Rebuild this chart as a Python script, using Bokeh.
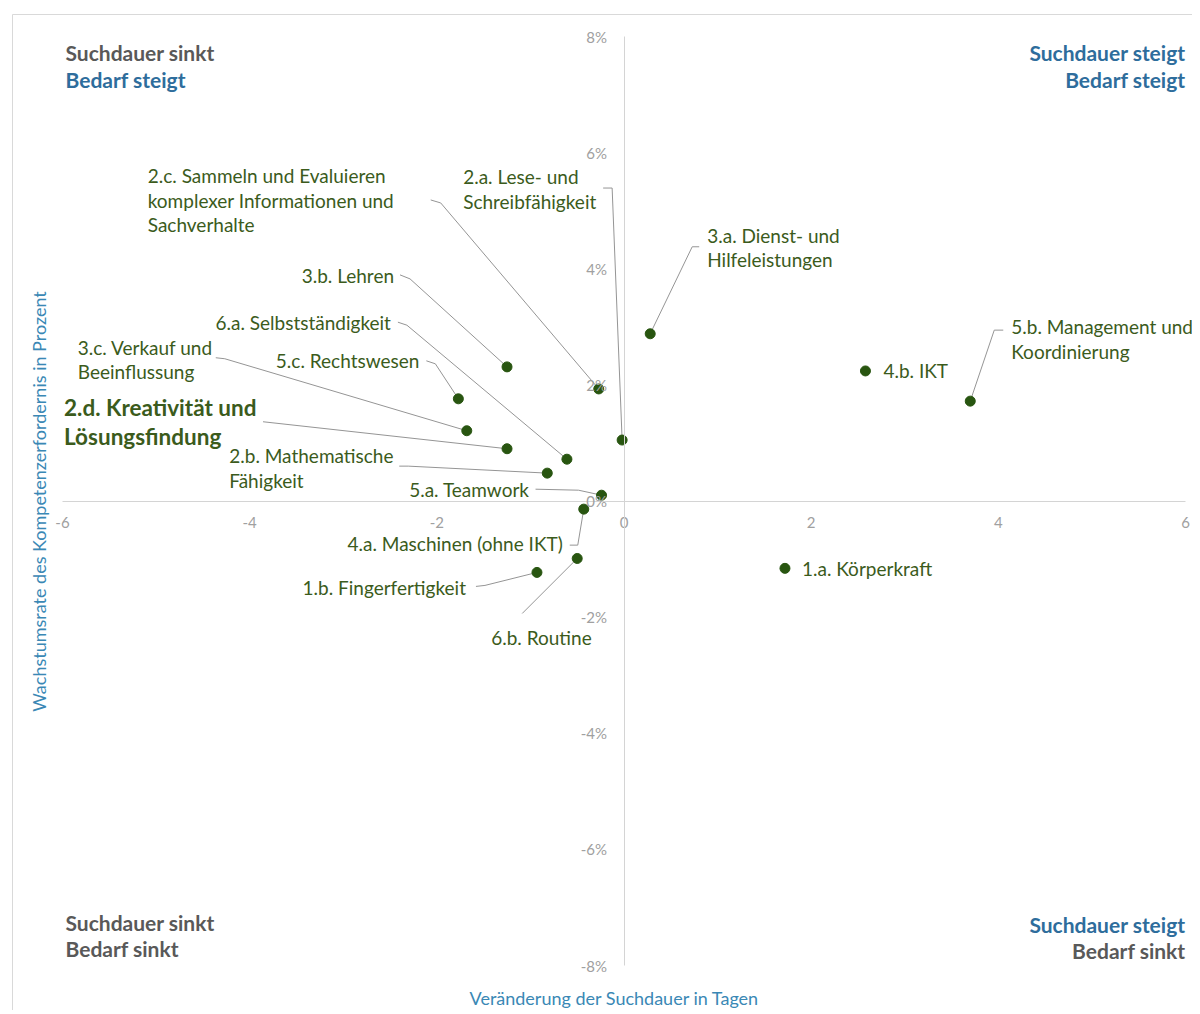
import math
from bokeh.plotting import figure
from bokeh.models import PrintfTickFormatter, FixedTicker, Range1d
from bokeh.core.properties import value
from bokeh.embed import file_html
from bokeh.resources import INLINE

# ---------------- data ----------------
codes = ["1.a", "1.b", "2.a", "2.b", "2.c", "2.d", "3.a", "3.b",
         "3.c", "4.a", "4.b", "5.a", "5.b", "5.c", "6.a", "6.b"]
label_texts = [
    "1.a. Körperkraft",
    "1.b. Fingerfertigkeit",
    "2.a. Lese- und\nSchreibfähigkeit",
    "2.b. Mathematische\nFähigkeit",
    "2.c. Sammeln und Evaluieren\nkomplexer Informationen und\nSachverhalte",
    "2.d. Kreativität und\nLösungsfindung",
    "3.a. Dienst- und\nHilfeleistungen",
    "3.b. Lehren",
    "3.c. Verkauf und\nBeeinflussung",
    "4.a. Maschinen (ohne IKT)",
    "4.b. IKT",
    "5.a. Teamwork",
    "5.b. Management und\nKoordinierung",
    "5.c. Rechtswesen",
    "6.a. Selbstständigkeit",
    "6.b. Routine",
]
# change of search duration in days
x_days = [1.72, -0.93, -0.02, -0.82, -0.27, -1.25, 0.28, -1.25,
          -1.68, -0.43, 2.58, -0.24, 3.70, -1.77, -0.61, -0.50]
# growth rate of skill requirement in percent
y_pct = [-1.16, -1.23, 1.05, 0.48, 1.93, 0.90, 2.88, 2.31,
         1.21, -0.14, 2.24, 0.10, 1.72, 1.76, 0.72, -0.99]

x_ticks = [-6, -4, -2, 0, 2, 4, 6]
y_ticks = [-8, -6, -4, -2, 0, 2, 4, 6, 8]

x_title = "Veränderung der Suchdauer in Tagen"
y_title = "Wachstumsrate des Kompetenzerfordernis in Prozent"

# ---------------- layout (screen pixels) ----------------
W, H = 1192, 1010
FL, FR, FT, FB = 62, 1185, 36, 965       # axis extents in canvas pixels
PPX = (FR - FL) / (x_ticks[-1] - x_ticks[0])
PPY = (FB - FT) / (y_ticks[-1] - y_ticks[0])

def px2x(px):
    return x_ticks[0] + (px - FL) / PPX

def py2y(py):
    return y_ticks[-1] - (py - FT) / PPY

# label offsets relative to point (px, screen: +down): dx, dy, align, baseline, leader pts
label_layout = {
    "1.a": (17, 0, "left", "middle", []),
    "1.b": (-71, 15, "right", "middle", [(-61, 14), (-52, 13)]),
    "2.a": (-159, -275, "left", "top", [(-19, -252), (-10, -252)]),
    "2.b": (-318, -29, "left", "top", [(-148, -7), (-139, -7)]),
    "2.c": (-451, -225, "left", "top", [(-168, -189), (-158, -186)]),
    "2.d": (-443, -55, "left", "top", [(-244, -27), (-235, -26)]),
    "3.a": (57, -110, "left", "top", [(49, -87), (42, -87)]),
    "3.b": (-113, -91, "right", "middle", [(-107, -92), (-97, -88)]),
    "3.c": (-389, -95, "left", "top", [(-251, -73), (-242, -72)]),
    "4.a": (-21, 34, "right", "middle", [(-14, 36), (-6, 36)]),
    "4.b": (18, 0, "left", "middle", []),
    "5.a": (-72, -6, "right", "middle", [(-66, -6), (-23, -5)]),
    "5.b": (41, -86, "left", "top", [(33, -71), (24, -71)]),
    "5.c": (-39, -38, "right", "middle", [(-32, -38), (-23, -35)]),
    "6.a": (-176, -137, "right", "middle", [(-169, -137), (-160, -134)]),
    "6.b": (-86, 79, "left", "middle", [(-55, 55)]),
}

FONT = "Lato"
GREEN_TXT = "#3b5b1c"
GREEN_PT = "#285510"
GRAY_Q = "#595959"
BLUE_Q = "#2e6d9c"
BLUE_T = "#3a88b5"
TICK_C = "#a0a0a0"
AXIS_C = "#d4d4d4"
LEADER_C = "#959595"
BORDER_C = "#d9d9d9"

p = figure(width=W, height=H, x_range=Range1d(px2x(0), px2x(W)),
           y_range=Range1d(py2y(H), py2y(0)),
           output_backend="svg", toolbar_location=None,
           min_border_left=0, min_border_right=0,
           min_border_top=0, min_border_bottom=0)
p.outline_line_color = None
p.xgrid.visible = False
p.ygrid.visible = False

for ax in (p.xaxis[0], p.yaxis[0]):
    ax.fixed_location = 0
    ax.axis_line_color = AXIS_C
    ax.axis_line_width = 1
    ax.major_tick_line_color = None
    ax.minor_tick_line_color = None
    ax.major_tick_out = 0
    ax.major_tick_in = 0
    ax.major_label_text_color = TICK_C
    ax.major_label_text_font = FONT
    ax.major_label_text_font_size = "15px"
p.xaxis.bounds = (x_ticks[0], x_ticks[-1])
p.yaxis.bounds = (y_ticks[0], y_ticks[-1])
p.xaxis.ticker = FixedTicker(ticks=x_ticks)
p.yaxis.ticker = FixedTicker(ticks=y_ticks)
p.xaxis.formatter = PrintfTickFormatter(format="%d")
p.yaxis.formatter = PrintfTickFormatter(format="%d%%")
p.xaxis.major_label_standoff = 16
p.yaxis.major_label_standoff = 17

# chart-area border (left and top edges)
p.line([px2x(12), px2x(12), px2x(W)], [py2y(H), py2y(14), py2y(14)],
       line_color=BORDER_C, line_width=1)

# leader lines
xs, ys = [], []
for c, xv, yv in zip(codes, x_days, y_pct):
    lead = label_layout[c][4]
    if not lead:
        continue
    lx = [xv + ox / PPX for ox, oy in lead] + [xv]
    ly = [yv - oy / PPY for ox, oy in lead] + [yv]
    xs.append(lx)
    ys.append(ly)
p.multi_line(xs, ys, line_color=LEADER_C, line_width=1)

# points
p.scatter(x_days, y_pct, size=10, color=GREEN_PT)

# labels
for c, t, xv, yv in zip(codes, label_texts, x_days, y_pct):
    dx, dy, al, bl, _ = label_layout[c]
    bold = c == "2.d"
    p.text(x=[xv + dx / PPX], y=[yv - dy / PPY], text=[t],
           text_align=al, text_baseline=bl,
           text_font=value(FONT),
           text_font_size="22.5px" if bold else "19px",
           text_font_style="bold" if bold else "normal",
           text_line_height=1.07,
           text_color=GREEN_TXT)

# quadrant captions
quad = [
    ("Suchdauer sinkt", 65, 52, "left", GRAY_Q),
    ("Bedarf steigt", 65, 79, "left", BLUE_Q),
    ("Suchdauer steigt", 1185, 52, "right", BLUE_Q),
    ("Bedarf steigt", 1185, 79, "right", BLUE_Q),
    ("Suchdauer sinkt", 65, 922, "left", GRAY_Q),
    ("Bedarf sinkt", 65, 948, "left", GRAY_Q),
    ("Suchdauer steigt", 1185, 924, "right", BLUE_Q),
    ("Bedarf sinkt", 1185, 950, "right", GRAY_Q),
]
for t, qx, qy, al, col in quad:
    p.text(x=[px2x(qx)], y=[py2y(qy)], text=[t], text_align=al,
           text_baseline="middle", text_font=value(FONT),
           text_font_size="21px", text_font_style="bold", text_color=col)

# axis titles
p.text(x=[px2x(614)], y=[py2y(997)], text=[x_title], text_align="center",
       text_baseline="middle", text_font=value(FONT), text_font_size="18px",
       text_color=BLUE_T)
p.text(x=[px2x(38)], y=[py2y(501)], text=[y_title], text_align="center",
       text_baseline="middle", angle=math.pi / 2, text_font=value(FONT),
       text_font_size="18px", text_color=BLUE_T)

open("out.html", "w").write(file_html(p, INLINE))
